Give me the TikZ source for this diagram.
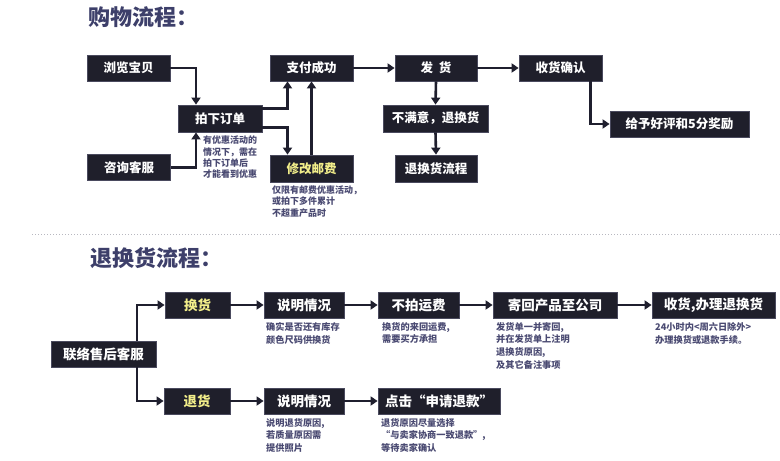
\documentclass[tikz,border=0pt]{standalone}
\usepackage{fontspec}
\setmainfont{Noto Sans CJK SC}
\usetikzlibrary{arrows.meta}
\definecolor{boxfill}{HTML}{1F1F2B}
\definecolor{boxline}{HTML}{4A4A5E}
\definecolor{linec}{HTML}{1F1F2E}
\definecolor{titlec}{HTML}{3D3F6A}
\definecolor{notec}{HTML}{4A4A72}
\definecolor{hl}{HTML}{F2EE8A}
\definecolor{sepc}{HTML}{B8B8C0}
\begin{document}
\begin{tikzpicture}[x=1pt,y=-1pt,
 box/.style={draw=boxline, line width=0.8pt, fill=boxfill, text=white, font=\fontsize{12.5}{14}\selectfont\bfseries, minimum height=26pt, inner sep=0pt, anchor=center},
 bbox/.style={box, font=\fontsize{13.5}{15}\selectfont\bfseries},
 hbox/.style={box, text=hl},
 note/.style={anchor=north west, align=left, inner sep=0pt, text=notec, font=\fontsize{9}{11.3}\selectfont\bfseries},
 bnote/.style={note, font=\fontsize{9.2}{12.8}\selectfont\bfseries},
 conn/.style={draw=linec, line width=2.6pt, -{Triangle[length=7pt,width=9pt]}},
 title/.style={anchor=west, inner sep=0pt, text=titlec, font=\fontsize{22}{25}\selectfont\bfseries}]
\fill[white] (0,0) rectangle (780,461);
\useasboundingbox (0,0) rectangle (780,461);

% ---------- titles ----------
\node[title] (t1) at (88,17) {购物流程：};
\node[title] (t2) at (90,258) {退换货流程：};
\draw[sepc, dotted, line width=1pt] (32,234) -- (780,234);

% ---------- shopping flow ----------
\node[box, minimum width=83pt] (browse) at (128.5,68) {浏览宝贝};
\node[box, minimum width=84pt, minimum height=27pt] (order) at (220,118.5) {拍下订单};
\node[box, minimum width=83pt] (consult) at (129,167.5) {咨询客服};
\node[box, minimum width=83pt] (pay) at (311.5,68) {支付成功};
\node[hbox, minimum width=83pt, minimum height=27pt] (fee) at (311.5,168.5) {修改邮费};
\node[box, minimum width=82pt] (ship) at (436,68) {发\ \ 货};
\node[box, minimum width=83pt] (confirm) at (560.5,68) {收货确认};
\node[box, minimum width=105pt, minimum height=27pt] (unhappy) at (435.5,118.5) {不满意，退换货};
\node[box, minimum width=82pt, minimum height=27pt] (flow) at (436,168.5) {退换货流程};
\node[box, minimum width=139pt] (reward) at (679.5,124) {给予好评和5分奖励};

\node[note] (n1) at (203,136) {有优惠活动的\\情况下，需在\\拍下订单后\\才能看到优惠};
\node[note] (n2) at (272,185.5) {仅限有邮费优惠活动，\\或拍下多件累计\\不超重产品时};

\draw[conn] (browse.east) -| ([xshift=-24pt]order.north);
\draw[conn] (consult.east) -| ([xshift=-24pt]order.south);
\draw[conn] ([yshift=10pt]order.east) -| ([xshift=-24pt]pay.south);
\draw[conn] ([yshift=-9pt]order.east) -| ([xshift=-24pt]fee.north);
\draw[conn] (fee.north) -- (pay.south);
\draw[conn] (pay.east) -- (ship.west);
\draw[conn] (ship.east) -- (confirm.west);
\draw[conn] (ship.south) -- (unhappy.north);
\draw[conn] (unhappy.south) -- (flow.north);
\draw[conn] ([xshift=30pt]confirm.south) |- (reward.west);

% ---------- return flow ----------
\node[bbox, minimum width=105pt] (contact) at (103.5,354) {联络售后客服};
\node[hbox, font=\fontsize{13.5}{15}\selectfont\bfseries, minimum width=65pt] (swap) at (197.5,305) {换货};
\node[hbox, font=\fontsize{13.5}{15}\selectfont\bfseries, minimum width=66pt] (ret) at (197,401) {退货};
\node[bbox, minimum width=80pt] (exp1) at (304,305) {说明情况};
\node[bbox, minimum width=81pt] (noship) at (418.5,305) {不拍运费};
\node[bbox, minimum width=124pt] (sendback) at (555,305) {寄回产品至公司};
\node[bbox, minimum width=123pt] (process) at (713.5,305) {收货,办理退换货};
\node[bbox, minimum width=80pt] (exp2) at (304,401) {说明情况};
\node[bbox, minimum width=122pt] (click) at (439,401) {点击“申请退款”};

\node[bnote] (m1) at (266,322) {确实是否还有库存\\颜色尺码供换货};
\node[bnote] (m2) at (382,322) {换货的来回运费,\\需要买方承担};
\node[bnote] (m3) at (496,322) {发货单一并寄回,\\并在发货单上注明\\退换货原因,\\及其它备注事项};
\node[bnote] (m4) at (655,322) {24小时内<周六日除外>\\办理换货或退款手续。};
\node[bnote] (m5) at (266,418) {说明退货原因,\\若质量原因需\\提供照片};
\node[bnote] (m6) at (381,418) {退货原因尽量选择\\“与卖家协商一致退款”,\\等待卖家确认};

\draw[conn] ([xshift=33.5pt]contact.north) |- (swap.west);
\draw[conn] ([xshift=33.5pt]contact.south) |- (ret.west);
\draw[conn] (swap.east) -- (exp1.west);
\draw[conn] (exp1.east) -- (noship.west);
\draw[conn] (noship.east) -- (sendback.west);
\draw[conn] (sendback.east) -- (process.west);
\draw[conn] (ret.east) -- (exp2.west);
\draw[conn] (exp2.east) -- (click.west);
\end{tikzpicture}
\end{document}
